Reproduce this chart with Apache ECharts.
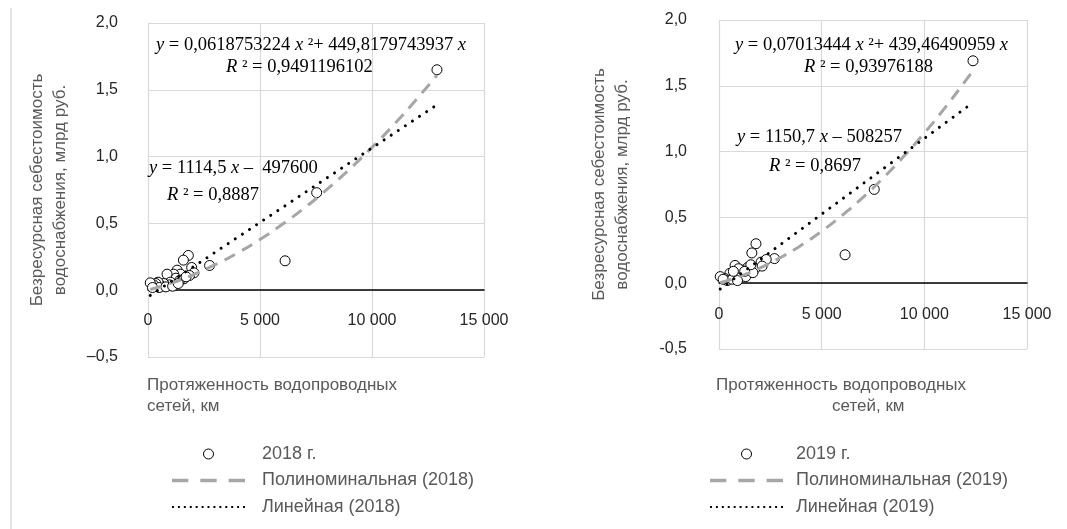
<!DOCTYPE html>
<html>
<head>
<meta charset="utf-8">
<script src="https://cdn.jsdelivr.net/npm/echarts@6/dist/echarts.min.js"></script>
<style>
html,body{margin:0;padding:0;background:#fff;}
#c{width:1067px;height:529px;}
</style>
</head>
<body>
<div id="c"></div>
<script>
// ---- data ----
const xTickLabels = ['0', '5 000', '10 000', '15 000'];
const yTickLabels2018 = ['–0,5', '0,0', '0,5', '1,0', '1,5', '2,0'];
const yTickLabels2019 = ['-0,5', '0,0', '0,5', '1,0', '1,5', '2,0'];

const x2018 = [12900, 7530, 6120, 2750, 1800, 1580, 1950, 2050, 1850, 1300, 1450, 1150, 1250, 1600, 1400, 850, 1000, 950, 700, 600, 450, 350, 250, 100, 500, 800, 1100, 1350, 1700, 200];
const y2018 = [1.65, 0.73, 0.22, 0.185, 0.26, 0.225, 0.17, 0.13, 0.11, 0.15, 0.12, 0.12, 0.09, 0.085, 0.07, 0.12, 0.06, 0.04, 0.05, 0.03, 0.06, 0.05, 0.04, 0.055, 0.02, 0.025, 0.03, 0.05, 0.10, 0.02];

const x2019 = [12370, 7560, 6140, 2700, 1800, 1600, 2050, 2300, 1750, 1500, 1400, 1100, 1200, 780, 860, 950, 530, 300, 60, 400, 650, 1000, 1300, 1650, 2100, 900, 200, 700, 1550, 1250];
const y2019 = [1.69, 0.713, 0.216, 0.187, 0.30, 0.23, 0.16, 0.18, 0.11, 0.09, 0.12, 0.10, 0.07, 0.135, 0.06, 0.11, 0.075, 0.035, 0.05, 0.02, 0.03, 0.04, 0.05, 0.08, 0.13, 0.02, 0.03, 0.09, 0.14, 0.09];

// trend lines, points
const polyX2018 = [100, 1000, 2000, 3000, 4000, 5000, 6000, 7000, 8000, 9000, 10000, 11000, 12000, 12900];
const polyY2018 = [0.005, 0.051, 0.115, 0.191, 0.279, 0.380, 0.493, 0.618, 0.756, 0.906, 1.069, 1.243, 1.431, 1.610];
const linX2018 = [100, 12900];
const linY2018 = [-0.039, 1.388];

const polyX2019 = [60, 1000, 2000, 3000, 4000, 5000, 6000, 7000, 8000, 9000, 10000, 11000, 12000, 12370];
const polyY2019 = [0.003, 0.051, 0.116, 0.195, 0.288, 0.395, 0.516, 0.651, 0.800, 0.964, 1.141, 1.332, 1.537, 1.617];
const linX2019 = [60, 12370];
const linY2019 = [-0.044, 1.373];

const names2018 = ['2018 г.', 'Полиноминальная (2018)', 'Линейная (2018)'];
const names2019 = ['2019 г.', 'Полиноминальная (2019)', 'Линейная (2019)'];

const eq2018 = ['{i|y} = 0,0618753224 {i|x} ²+ 449,8179743937 {i|x}', '{i|R} ² = 0,9491196102', '{i|y} = 1114,5 {i|x} –  497600', '{i|R} ² = 0,8887'];
const eq2019 = ['{i|y} = 0,07013444 {i|x} ²+ 439,46490959 {i|x}', '{i|R} ² = 0,93976188', '{i|y} = 1150,7 {i|x} – 508257', '{i|R} ² = 0,8697'];

const yTitle = 'Безресурсная себестоимость\nводоснабжения, млрд руб.';
const xTitle1 = 'Протяженность водопроводных';
const xTitle2 = 'сетей, км';

// ---- helpers ----
const zip = (a, b) => a.map((v, i) => [v, b[i]]);
const SANS = 'Liberation Sans, Arial, sans-serif';
const SERIF = 'Liberation Serif, Times New Roman, serif';
const TICK = '#262626';
const TITLE = '#595959';
const GRID = '#D9D9D9';

// legend icon shapes (styling only)
const DASH_ICON = 'path://M0,0h15v3h-15z M26,0h15v3h-15z M52,0h15v3h-15z';
let dotPath = 'path://';
for (let i = 0; i < 13; i++) dotPath += 'M' + (i * 6) + ',0h2v2h-2z ';
const DOT_ICON = dotPath;

function xAxisCfg(gi, margin, offset) {
  return {
    type: 'value', gridIndex: gi, min: 0, max: 15000, interval: 5000,
    position: 'bottom', offset: offset,
    axisLine: { show: true, onZero: false, lineStyle: { color: '#000', width: 1.5 } },
    axisTick: { show: false },
    axisLabel: { margin: margin, fontFamily: SANS, fontSize: 16, color: TICK,
      formatter: v => xTickLabels[Math.round(v / 5000)] },
    splitLine: { show: true, lineStyle: { color: GRID, width: 1.2 } }
  };
}
function yAxisCfg(gi, labels, margin, gap) {
  return {
    type: 'value', gridIndex: gi, min: -0.5, max: 2.0, interval: 0.5,
    axisLine: { show: false }, axisTick: { show: false },
    axisLabel: { margin: margin, fontFamily: SANS, fontSize: 16, color: TICK,
      formatter: v => labels[Math.round((v + 0.5) / 0.5)] },
    splitLine: { show: true, lineStyle: { color: GRID, width: 1.2 } },
    name: yTitle, nameLocation: 'middle', nameRotate: 90, nameGap: gap,
    nameTextStyle: { fontFamily: SANS, fontSize: 17, color: TITLE, lineHeight: 23, align: 'center' }
  };
}
function seriesFor(gi, names, xs, ys, px, py, lx, ly) {
  return [
    { name: names[0], type: 'scatter', xAxisIndex: gi, yAxisIndex: gi, data: zip(xs, ys),
      symbol: 'circle', symbolSize: 10, z: 2,
      itemStyle: { color: '#fff', borderColor: '#000', borderWidth: 1, opacity: 1 } },
    { name: names[1], type: 'line', xAxisIndex: gi, yAxisIndex: gi, data: zip(px, py),
      smooth: true, symbol: 'none', showSymbol: false, z: 3,
      itemStyle: { color: '#A6A6A6' },
      lineStyle: { color: '#A6A6A6', width: 3, type: [12, 8] } },
    { name: names[2], type: 'line', xAxisIndex: gi, yAxisIndex: gi, data: zip(lx, ly),
      symbol: 'none', showSymbol: false, z: 4,
      itemStyle: { color: '#000' },
      lineStyle: { color: '#000', width: 3, type: [0.01, 8.5], cap: 'round' } }
  ];
}
function eqText(txt, x, y) {
  return { type: 'text', silent: true, z: 10,
    style: { text: txt, x: x, y: y, fill: '#000', font: '18.5px ' + SERIF,
      verticalAlign: 'middle', align: 'left',
      rich: { i: { fontStyle: 'italic', fontFamily: SERIF, fontSize: 18.5, fill: '#000' } } } };
}
function plainText(txt, x, y, align) {
  return { type: 'text', silent: true, z: 10,
    style: { text: txt, x: x, y: y, fill: TITLE, font: '17px ' + SANS,
      verticalAlign: 'middle', align: align || 'left' } };
}
function legendCfg(names, left, pad) {
  return {
    data: [
      { name: names[0], icon: 'circle', itemStyle: { color: '#fff', borderColor: '#000', borderWidth: 1 } },
      { name: names[1], icon: DASH_ICON, itemStyle: { color: '#A6A6A6', borderWidth: 0 } },
      { name: names[2], icon: DOT_ICON, itemStyle: { color: '#000', borderWidth: 0 } }
    ],
    orient: 'vertical', left: left, top: 440,
    itemWidth: 73, itemHeight: 10, itemGap: 8.5,
    textStyle: { fontFamily: SANS, fontSize: 18, color: TITLE, lineHeight: 18, padding: [0, 0, 0, pad] },
    selectedMode: false
  };
}

const chart = echarts.init(document.getElementById('c'), null, { renderer: 'canvas' });
chart.setOption({
  animation: false,
  backgroundColor: '#fff',
  grid: [
    { left: 148, top: 23, width: 336, height: 334, containLabel: false },
    { left: 719, top: 20, width: 308, height: 329, containLabel: false }
  ],
  xAxis: [xAxisCfg(0, 22, -66.8), xAxisCfg(1, 23, -65.8)],
  yAxis: [yAxisCfg(0, yTickLabels2018, 30, 76), yAxisCfg(1, yTickLabels2019, 32, 85)],
  legend: [legendCfg(names2018, 167, 12), legendCfg(names2019, 705, 8)],
  series: [].concat(
    seriesFor(0, names2018, x2018, y2018, polyX2018, polyY2018, linX2018, linY2018),
    seriesFor(1, names2019, x2019, y2019, polyX2019, polyY2019, linX2019, linY2019)
  ),
  graphic: [
    { type: 'rect', silent: true, shape: { x: 10, y: 8, width: 2, height: 521 }, style: { fill: '#E3E3E3' } },
    eqText(eq2018[0], 156, 45), eqText(eq2018[1], 226, 67),
    eqText(eq2018[2], 149, 168), eqText(eq2018[3], 167, 195),
    eqText(eq2019[0], 735, 45), eqText(eq2019[1], 804, 67),
    eqText(eq2019[2], 737, 137), eqText(eq2019[3], 769, 166),
    plainText(xTitle1, 147, 385), plainText(xTitle2, 147, 406),
    plainText(xTitle1, 716, 385), plainText(xTitle2, 832, 406)
  ]
});
</script>
</body>
</html>
